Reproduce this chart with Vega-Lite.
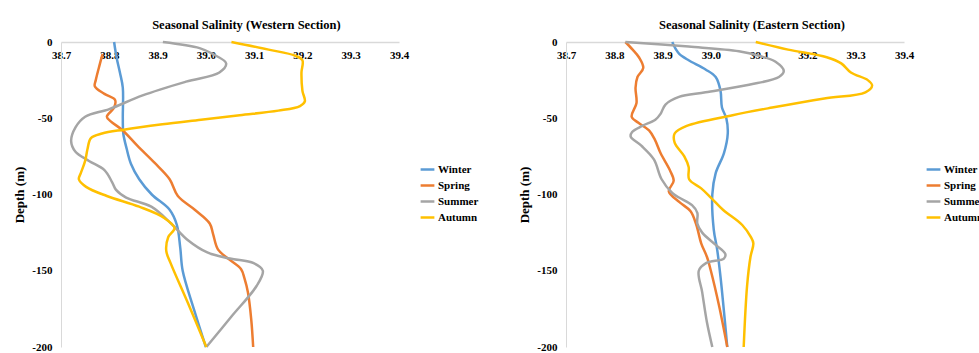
{
  "$schema": "https://vega.github.io/schema/vega-lite/v6.json",
  "padding": {"left": 13, "top": 19, "right": 0, "bottom": 0},
  "background": "white",
  "config": {
    "font": "Liberation Serif",
    "view": {"stroke": null},
    "axis": {
      "grid": false,
      "ticks": false,
      "labelFlush": false,
      "domainColor": "#D9D9D9",
      "domainWidth": 1.5,
      "labelFont": "Liberation Serif",
      "labelFontWeight": "bold",
      "labelFontSize": 11,
      "labelColor": "#000000",
      "titleFont": "Liberation Serif",
      "titleFontWeight": "bold",
      "titleFontSize": 13,
      "titleColor": "#000000"
    },
    "title": {"font": "Liberation Serif", "fontWeight": "bold", "fontSize": 12.5, "color": "#000000", "offset": 4.5, "frame": "bounds", "anchor": "middle"},
    "legend": {
      "labelFont": "Liberation Serif",
      "labelFontWeight": "bold",
      "labelFontSize": 11,
      "labelColor": "#000000",
      "symbolType": "stroke",
      "symbolStrokeWidth": 2.5,
      "symbolSize": 190,
      "labelOffset": 2,
      "rowPadding": 2,
      "title": null
    }
  },
  "datasets": {
    "west": [
      {"season": "Winter", "depth": 0, "salinity": 38.81},
      {"season": "Winter", "depth": -10, "salinity": 38.815},
      {"season": "Winter", "depth": -20, "salinity": 38.822},
      {"season": "Winter", "depth": -30, "salinity": 38.828},
      {"season": "Winter", "depth": -50, "salinity": 38.828},
      {"season": "Winter", "depth": -60, "salinity": 38.829},
      {"season": "Winter", "depth": -70, "salinity": 38.836},
      {"season": "Winter", "depth": -80, "salinity": 38.845},
      {"season": "Winter", "depth": -90, "salinity": 38.862},
      {"season": "Winter", "depth": -100, "salinity": 38.888},
      {"season": "Winter", "depth": -110, "salinity": 38.925},
      {"season": "Winter", "depth": -120, "salinity": 38.94},
      {"season": "Winter", "depth": -135, "salinity": 38.947},
      {"season": "Winter", "depth": -150, "salinity": 38.952},
      {"season": "Winter", "depth": -175, "salinity": 38.975},
      {"season": "Winter", "depth": -200, "salinity": 39.0},

      {"season": "Spring", "depth": -8, "salinity": 38.786},
      {"season": "Spring", "depth": -15, "salinity": 38.78},
      {"season": "Spring", "depth": -25, "salinity": 38.772},
      {"season": "Spring", "depth": -29, "salinity": 38.77},
      {"season": "Spring", "depth": -34, "salinity": 38.79},
      {"season": "Spring", "depth": -38, "salinity": 38.812},
      {"season": "Spring", "depth": -43, "salinity": 38.81},
      {"season": "Spring", "depth": -49, "salinity": 38.795},
      {"season": "Spring", "depth": -52, "salinity": 38.803},
      {"season": "Spring", "depth": -58, "salinity": 38.828},
      {"season": "Spring", "depth": -68, "salinity": 38.858},
      {"season": "Spring", "depth": -79, "salinity": 38.893},
      {"season": "Spring", "depth": -90, "salinity": 38.925},
      {"season": "Spring", "depth": -101, "salinity": 38.942},
      {"season": "Spring", "depth": -110, "salinity": 38.977},
      {"season": "Spring", "depth": -119, "salinity": 39.008},
      {"season": "Spring", "depth": -126, "salinity": 39.015},
      {"season": "Spring", "depth": -136, "salinity": 39.025},
      {"season": "Spring", "depth": -142, "salinity": 39.046},
      {"season": "Spring", "depth": -149, "salinity": 39.073},
      {"season": "Spring", "depth": -155, "salinity": 39.08},
      {"season": "Spring", "depth": -164, "salinity": 39.087},
      {"season": "Spring", "depth": -182, "salinity": 39.094},
      {"season": "Spring", "depth": -200, "salinity": 39.098},

      {"season": "Summer", "depth": 0, "salinity": 38.911},
      {"season": "Summer", "depth": -4, "salinity": 38.987},
      {"season": "Summer", "depth": -8, "salinity": 39.015},
      {"season": "Summer", "depth": -14, "salinity": 39.042},
      {"season": "Summer", "depth": -20, "salinity": 39.028},
      {"season": "Summer", "depth": -26, "salinity": 38.959},
      {"season": "Summer", "depth": -35, "salinity": 38.869},
      {"season": "Summer", "depth": -44, "salinity": 38.8},
      {"season": "Summer", "depth": -49, "salinity": 38.75},
      {"season": "Summer", "depth": -56, "salinity": 38.73},
      {"season": "Summer", "depth": -65, "salinity": 38.721},
      {"season": "Summer", "depth": -72, "salinity": 38.73},
      {"season": "Summer", "depth": -78, "salinity": 38.758},
      {"season": "Summer", "depth": -84, "salinity": 38.79},
      {"season": "Summer", "depth": -92, "salinity": 38.806},
      {"season": "Summer", "depth": -97, "salinity": 38.814},
      {"season": "Summer", "depth": -102, "salinity": 38.835},
      {"season": "Summer", "depth": -108, "salinity": 38.887},
      {"season": "Summer", "depth": -119, "salinity": 38.928},
      {"season": "Summer", "depth": -130, "salinity": 38.963},
      {"season": "Summer", "depth": -138, "salinity": 39.003},
      {"season": "Summer", "depth": -142, "salinity": 39.05},
      {"season": "Summer", "depth": -145, "salinity": 39.099},
      {"season": "Summer", "depth": -150, "salinity": 39.118},
      {"season": "Summer", "depth": -160, "salinity": 39.105},
      {"season": "Summer", "depth": -180, "salinity": 39.053},
      {"season": "Summer", "depth": -200, "salinity": 39.001},

      {"season": "Autumn", "depth": 0, "salinity": 39.053},
      {"season": "Autumn", "depth": -5, "salinity": 39.13},
      {"season": "Autumn", "depth": -9, "salinity": 39.185},
      {"season": "Autumn", "depth": -12, "salinity": 39.2},
      {"season": "Autumn", "depth": -20, "salinity": 39.198},
      {"season": "Autumn", "depth": -32, "salinity": 39.2},
      {"season": "Autumn", "depth": -39, "salinity": 39.205},
      {"season": "Autumn", "depth": -42, "salinity": 39.195},
      {"season": "Autumn", "depth": -45, "salinity": 39.15},
      {"season": "Autumn", "depth": -48, "salinity": 39.07},
      {"season": "Autumn", "depth": -51, "salinity": 38.99},
      {"season": "Autumn", "depth": -54, "salinity": 38.91},
      {"season": "Autumn", "depth": -57.5, "salinity": 38.83},
      {"season": "Autumn", "depth": -60, "salinity": 38.785},
      {"season": "Autumn", "depth": -63, "salinity": 38.762},
      {"season": "Autumn", "depth": -70, "salinity": 38.755},
      {"season": "Autumn", "depth": -78, "salinity": 38.75},
      {"season": "Autumn", "depth": -86, "salinity": 38.741},
      {"season": "Autumn", "depth": -90, "salinity": 38.737},
      {"season": "Autumn", "depth": -95, "salinity": 38.752},
      {"season": "Autumn", "depth": -101, "salinity": 38.795},
      {"season": "Autumn", "depth": -108, "salinity": 38.862},
      {"season": "Autumn", "depth": -115, "salinity": 38.912},
      {"season": "Autumn", "depth": -122, "salinity": 38.935},
      {"season": "Autumn", "depth": -128, "salinity": 38.922},
      {"season": "Autumn", "depth": -137, "salinity": 38.918},
      {"season": "Autumn", "depth": -145, "salinity": 38.927},
      {"season": "Autumn", "depth": -172, "salinity": 38.964},
      {"season": "Autumn", "depth": -200, "salinity": 39.001}
    ],
    "east": [
      {"season": "Winter", "depth": 0, "salinity": 38.92},
      {"season": "Winter", "depth": -5, "salinity": 38.928},
      {"season": "Winter", "depth": -8, "salinity": 38.935},
      {"season": "Winter", "depth": -12, "salinity": 38.954},
      {"season": "Winter", "depth": -18, "salinity": 38.989},
      {"season": "Winter", "depth": -23, "salinity": 39.01},
      {"season": "Winter", "depth": -32, "salinity": 39.02},
      {"season": "Winter", "depth": -43, "salinity": 39.023},
      {"season": "Winter", "depth": -50, "salinity": 39.032},
      {"season": "Winter", "depth": -60, "salinity": 39.035},
      {"season": "Winter", "depth": -73, "salinity": 39.027},
      {"season": "Winter", "depth": -86, "salinity": 39.01},
      {"season": "Winter", "depth": -100, "salinity": 39.003},
      {"season": "Winter", "depth": -123, "salinity": 39.006},
      {"season": "Winter", "depth": -136, "salinity": 39.013},
      {"season": "Winter", "depth": -154, "salinity": 39.02},
      {"season": "Winter", "depth": -200, "salinity": 39.034},

      {"season": "Spring", "depth": 0, "salinity": 38.823},
      {"season": "Spring", "depth": -5, "salinity": 38.838},
      {"season": "Spring", "depth": -10, "salinity": 38.851},
      {"season": "Spring", "depth": -17, "salinity": 38.86},
      {"season": "Spring", "depth": -23, "salinity": 38.848},
      {"season": "Spring", "depth": -30, "salinity": 38.844},
      {"season": "Spring", "depth": -40, "salinity": 38.846},
      {"season": "Spring", "depth": -49, "salinity": 38.836},
      {"season": "Spring", "depth": -53, "salinity": 38.85},
      {"season": "Spring", "depth": -58, "salinity": 38.872},
      {"season": "Spring", "depth": -64, "salinity": 38.884},
      {"season": "Spring", "depth": -73, "salinity": 38.896},
      {"season": "Spring", "depth": -84, "salinity": 38.915},
      {"season": "Spring", "depth": -91, "salinity": 38.923},
      {"season": "Spring", "depth": -98, "salinity": 38.913},
      {"season": "Spring", "depth": -105, "salinity": 38.935},
      {"season": "Spring", "depth": -111, "salinity": 38.958},
      {"season": "Spring", "depth": -120, "salinity": 38.97},
      {"season": "Spring", "depth": -132, "salinity": 38.98},
      {"season": "Spring", "depth": -141, "salinity": 38.992},
      {"season": "Spring", "depth": -150, "salinity": 39.0},
      {"season": "Spring", "depth": -173, "salinity": 39.017},
      {"season": "Spring", "depth": -200, "salinity": 39.034},

      {"season": "Summer", "depth": 0, "salinity": 38.823},
      {"season": "Summer", "depth": -3, "salinity": 38.954},
      {"season": "Summer", "depth": -6, "salinity": 39.058},
      {"season": "Summer", "depth": -9, "salinity": 39.1},
      {"season": "Summer", "depth": -13, "salinity": 39.134},
      {"season": "Summer", "depth": -19, "salinity": 39.151},
      {"season": "Summer", "depth": -23, "salinity": 39.141},
      {"season": "Summer", "depth": -28, "salinity": 39.079},
      {"season": "Summer", "depth": -33, "salinity": 38.989},
      {"season": "Summer", "depth": -36, "salinity": 38.934},
      {"season": "Summer", "depth": -41, "salinity": 38.906},
      {"season": "Summer", "depth": -47, "salinity": 38.896},
      {"season": "Summer", "depth": -51, "salinity": 38.885},
      {"season": "Summer", "depth": -55, "salinity": 38.858},
      {"season": "Summer", "depth": -59, "salinity": 38.837},
      {"season": "Summer", "depth": -62, "salinity": 38.834},
      {"season": "Summer", "depth": -68, "salinity": 38.856},
      {"season": "Summer", "depth": -77, "salinity": 38.882},
      {"season": "Summer", "depth": -90, "salinity": 38.898},
      {"season": "Summer", "depth": -99, "salinity": 38.92},
      {"season": "Summer", "depth": -102, "salinity": 38.934},
      {"season": "Summer", "depth": -107, "salinity": 38.961},
      {"season": "Summer", "depth": -112, "salinity": 38.972},
      {"season": "Summer", "depth": -119, "salinity": 38.972},
      {"season": "Summer", "depth": -125, "salinity": 38.982},
      {"season": "Summer", "depth": -133, "salinity": 39.01},
      {"season": "Summer", "depth": -139, "salinity": 39.03},
      {"season": "Summer", "depth": -142, "salinity": 39.027},
      {"season": "Summer", "depth": -145, "salinity": 38.99},
      {"season": "Summer", "depth": -150, "salinity": 38.975},
      {"season": "Summer", "depth": -164, "salinity": 38.982},
      {"season": "Summer", "depth": -184, "salinity": 38.992},
      {"season": "Summer", "depth": -200, "salinity": 39.003},

      {"season": "Autumn", "depth": 0, "salinity": 39.093},
      {"season": "Autumn", "depth": -5, "salinity": 39.16},
      {"season": "Autumn", "depth": -10, "salinity": 39.24},
      {"season": "Autumn", "depth": -14, "salinity": 39.27},
      {"season": "Autumn", "depth": -20, "salinity": 39.29},
      {"season": "Autumn", "depth": -25, "salinity": 39.325},
      {"season": "Autumn", "depth": -28.5, "salinity": 39.334},
      {"season": "Autumn", "depth": -33, "salinity": 39.32},
      {"season": "Autumn", "depth": -37, "salinity": 39.235},
      {"season": "Autumn", "depth": -43, "salinity": 39.127},
      {"season": "Autumn", "depth": -48, "salinity": 39.045},
      {"season": "Autumn", "depth": -55, "salinity": 38.95},
      {"season": "Autumn", "depth": -60, "salinity": 38.925},
      {"season": "Autumn", "depth": -66, "salinity": 38.925},
      {"season": "Autumn", "depth": -75, "salinity": 38.945},
      {"season": "Autumn", "depth": -82, "salinity": 38.954},
      {"season": "Autumn", "depth": -90, "salinity": 38.955},
      {"season": "Autumn", "depth": -96, "salinity": 38.98},
      {"season": "Autumn", "depth": -102, "salinity": 39.0},
      {"season": "Autumn", "depth": -110, "salinity": 39.025},
      {"season": "Autumn", "depth": -120, "salinity": 39.065},
      {"season": "Autumn", "depth": -128, "salinity": 39.083},
      {"season": "Autumn", "depth": -132, "salinity": 39.088},
      {"season": "Autumn", "depth": -141, "salinity": 39.082},
      {"season": "Autumn", "depth": -160, "salinity": 39.075},
      {"season": "Autumn", "depth": -200, "salinity": 39.068}
    ]
  },
  "spacing": 39,
  "resolve": {"legend": {"color": "independent"}},
  "hconcat": [
    {
      "width": 338,
      "height": 305,
      "title": {"text": "Seasonal Salinity (Western Section)"},
      "data": {"name": "west"},
      "mark": {"type": "line", "interpolate": "catmull-rom", "strokeWidth": 2.5},
      "encoding": {
        "x": {"field": "salinity", "type": "quantitative", "scale": {"domain": [38.7, 39.4], "zero": false, "nice": false},
              "axis": {"orient": "bottom", "offset": -305, "values": [38.7, 38.8, 38.9, 39.0, 39.1, 39.2, 39.3, 39.4], "format": ".1f", "labelPadding": 7, "title": null}},
        "y": {"field": "depth", "type": "quantitative", "scale": {"domain": [-200, 0], "nice": false},
              "axis": {"values": [0, -50, -100, -150, -200], "labelExpr": "datum.value + ''", "labelPadding": 9, "title": "Depth (m)", "titlePadding": 5, "domainWidth": 1}},
        "color": {"field": "season", "type": "nominal",
                  "scale": {"domain": ["Winter", "Spring", "Summer", "Autumn"], "range": ["#5B9BD5", "#ED7D31", "#A5A5A5", "#FFC000"]},
                  "legend": {"orient": "none", "legendX": 358, "legendY": 119, "title": null}},
        "order": {"field": "depth", "sort": "descending"}
      }
    },
    {
      "width": 338,
      "height": 305,
      "title": {"text": "Seasonal Salinity (Eastern Section)"},
      "data": {"name": "east"},
      "mark": {"type": "line", "interpolate": "catmull-rom", "strokeWidth": 2.5},
      "encoding": {
        "x": {"field": "salinity", "type": "quantitative", "scale": {"domain": [38.7, 39.4], "zero": false, "nice": false},
              "axis": {"orient": "bottom", "offset": -305, "values": [38.7, 38.8, 38.9, 39.0, 39.1, 39.2, 39.3, 39.4], "format": ".1f", "labelPadding": 7, "title": null}},
        "y": {"field": "depth", "type": "quantitative", "scale": {"domain": [-200, 0], "nice": false},
              "axis": {"values": [0, -50, -100, -150, -200], "labelExpr": "datum.value + ''", "labelPadding": 9, "title": "Depth (m)", "titlePadding": 5, "domainWidth": 1}},
        "color": {"field": "season", "type": "nominal",
                  "scale": {"domain": ["Winter", "Spring", "Summer", "Autumn"], "range": ["#5B9BD5", "#ED7D31", "#A5A5A5", "#FFC000"]},
                  "legend": {"orient": "none", "legendX": 359, "legendY": 119, "title": null}},
        "order": {"field": "depth", "sort": "descending"}
      }
    }
  ]
}
